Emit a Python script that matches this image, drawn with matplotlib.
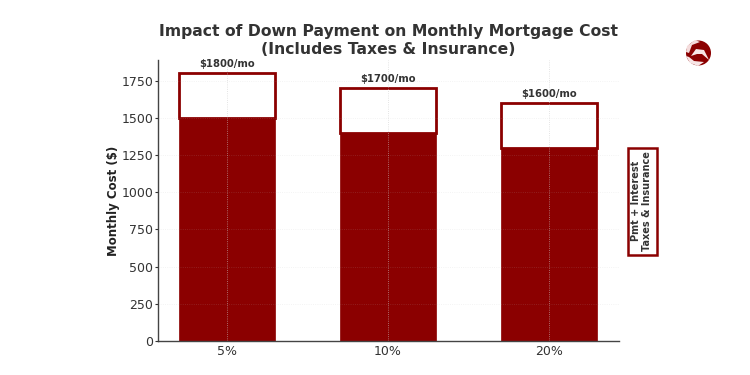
import numpy as np
import matplotlib.pyplot as plt
from matplotlib.patches import Circle, Polygon, Rectangle

down_payment = ['5%', '10%', '20%']
pmt_interest = [1500, 1400, 1300]
taxes_insurance = [300, 300, 300]
totals = [1800, 1700, 1600]

red = '#8b0000'
dark = '#333333'
W, H = 750, 375

fig = plt.figure(figsize=(7.5, 3.75), dpi=100)
ax = fig.add_axes([158 / W, 1 - 341 / H, (619 - 158) / W, (341 - 60) / H])

x = np.arange(len(down_payment))
ax.bar(x, pmt_interest, width=0.6, color=red, edgecolor=red, linewidth=0.5, zorder=2)
ax.bar(x, taxes_insurance, width=0.6, bottom=pmt_interest, color='white',
       edgecolor=red, linewidth=2, zorder=2)

for i, t in enumerate(totals):
    ax.text(i, t + 27, '$%d/mo' % t, ha='center', va='bottom', fontsize=7.2,
            fontweight='bold', color=dark)

ax.set_xlim(-0.43, 2.435)
ax.set_ylim(0, 1890)
ax.set_xticks(x)
ax.set_xticklabels(down_payment)
ax.set_yticks(np.arange(0, 1751, 250))
ax.tick_params(axis='both', labelsize=9, colors=dark, length=2, width=0.8, pad=1.5)
ax.tick_params(axis='x', length=0, pad=3)
ax.set_ylabel('Monthly Cost ($)', fontsize=8.5, fontweight='bold', color='#222222')
ax.yaxis.set_label_coords((120 - 158) / 461, 0.5)
ax.grid(True, axis='x', linestyle=':', linewidth=0.6, color='#cccccc', alpha=0.7, zorder=3)
ax.grid(True, axis='y', linestyle=':', linewidth=0.6, color='#bbbbbb', alpha=0.22, zorder=3)
ax.set_axisbelow(False)
for s in ['top', 'right']:
    ax.spines[s].set_visible(False)
for s in ['left', 'bottom']:
    ax.spines[s].set_color('#444444')
    ax.spines[s].set_linewidth(1)

fig.text(388.5 / W, 1 - 40.5 / H, 'Impact of Down Payment on Monthly Mortgage Cost\n(Includes Taxes & Insurance)',
         ha='center', va='center', fontsize=11.25, fontweight='bold', color=dark,
         linespacing=1.25)

# key box on the right
fig.patches.append(Rectangle((627.5 / W, 1 - 254.5 / H), 29 / W, 107 / H, transform=fig.transFigure,
                             facecolor='white', edgecolor=red, linewidth=1.8))
fig.text(641.5 / W, 1 - 201 / H, 'Pmt + Interest\nTaxes & Insurance', rotation=90, ha='center',
         va='center', multialignment='center', fontsize=7, fontweight='bold', color=dark, linespacing=1.15)

# small logo top right
logo = fig.add_axes([684 / W, 1 - 67 / H, 28 / W, 28 / H])
logo.set_xlim(0, 28)
logo.set_ylim(28, 0)
logo.axis('off')
logo.add_patch(Circle((14.5, 14), 12.5, facecolor=red, edgecolor='none'))
logo.add_patch(Polygon([[2, 13], [3, 7], [11, 1], [16, 3], [8, 6], [5, 14]], facecolor='#f4dcdc', edgecolor='none'))
logo.add_patch(Polygon([[7, 17], [12, 10], [20, 11], [25, 21], [18, 15], [13, 15]], facecolor='#f7e6e6', edgecolor='none'))
logo.add_patch(Polygon([[2, 17], [5, 18], [10, 22], [20, 23], [14, 27], [6, 24]], facecolor='#f7e6e6', edgecolor='none'))

fig.savefig('out.png', dpi=100)
